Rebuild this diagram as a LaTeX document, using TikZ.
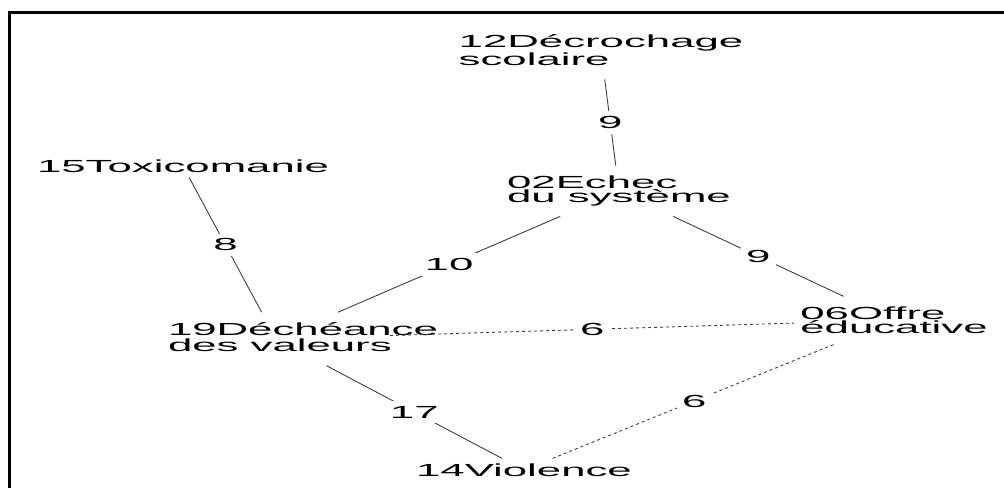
\documentclass[tikz,border=0pt]{standalone}
\usepackage{fontspec}
\usepackage{tikz}
\newfontfamily\graphfont[FakeStretch=2.5]{Liberation Sans}

\begin{document}
\begin{tikzpicture}[x=1pt,y=-1pt,
        term/.style={font=\graphfont\fontsize{17.5}{12.5}\selectfont, align=left, inner xsep=6pt, inner ysep=5pt},
        link/.style={draw=black!75, line width=0.9pt},
        weak/.style={link, dash pattern=on 3pt off 3pt},
        weight/.style={font=\graphfont\fontsize{17.5}{12.5}\selectfont, fill=white, inner sep=5pt}]

        \useasboundingbox (0,0) rectangle (1004,488);

        % Frame
        \draw[line width=3pt] (9,488) -- (9,12.5) -- (1004,12.5);

        % Terms
        \node[term, inner ysep=14pt] (n12) at (601,50) {12Décrochage\\scolaire};
        \node[term] (n15) at (183,166) {15Toxicomanie};
        \node[term, inner ysep=10pt] (n02) at (619,191) {02Echec\\du système};
        \node[term, inner ysep=10pt] (n19) at (276,339) {\makebox[216pt][l]{\begin{tabular}{@{}l@{}}19Déchéance\\des valeurs\end{tabular}}};
        \node[term, inner ysep=10pt] (n06) at (894,320) {06Offre\\éducative};
        \node[term] (n14) at (524,470) {14Violence};

        % Links
        \draw[link] (n12) -- node[weight] {9} (n02);
        \draw[link] (n15) -- node[weight] {8} (n19);
        \draw[link] (n02) -- node[weight] {10} (n19);
        \draw[link] (n02) -- node[weight] {9} (n06);
        \draw[weak] (n19) -- node[weight] {6} (n06);
        \draw[link] (n19) -- node[weight] {17} (n14);
        \draw[weak] (n14) -- node[weight] {6} (n06);

    \end{tikzpicture}
\end{document}
